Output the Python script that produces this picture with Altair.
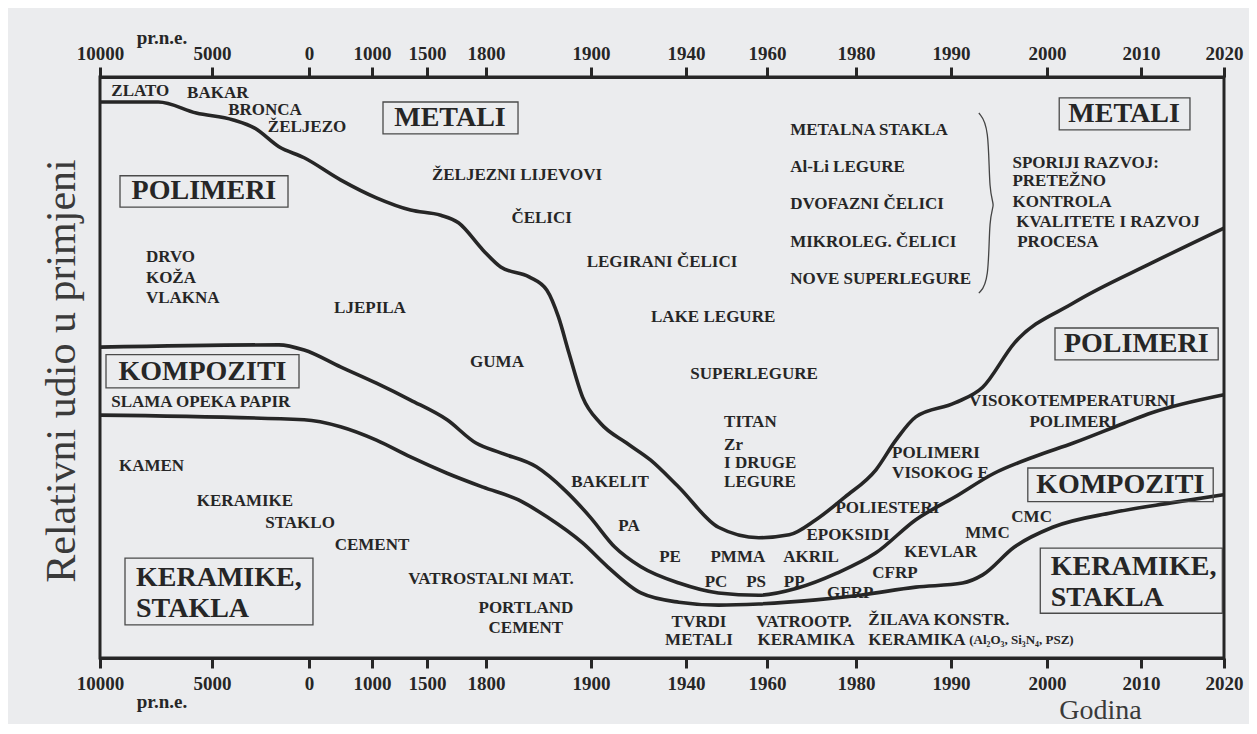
import altair as alt
import pandas as pd

FONT = "Liberation Serif"
INK = "#262626"
BG = "#ebecee"

# ---- non-uniform time axis ----
tick_years = [-10000, -5000, 0, 1000, 1500, 1800, 1900, 1940, 1960, 1980, 1990, 2000, 2010, 2020]
tick_px = [0, 112, 209, 272, 327, 386, 491, 586, 667, 756, 851, 947, 1041, 1124]

# ---- boundary curves (year, relative share 0..100) ----
metal_years = [-10000, -7400, -5700, -3900, -2800, -1550, -250, 500, 1040, 1350, 1570, 1660, 1785,
               1814, 1841, 1858, 1869, 1879, 1892, 1904, 1915, 1925, 1937, 1948, 1958, 1965, 1971,
               1977.5, 1982.1, 1984.2, 1986.3, 1990.4, 1993.3, 1996.6, 2002.8, 2011.3, 2020]
metal_share = [95.7, 95.7, 93.8, 92.6, 91.2, 88.0, 86.1, 82.3, 79.2, 77.1, 76.2, 74.9, 70.2,
               67.3, 65.6, 63.3, 58.7, 52.5, 44.9, 40.4, 37.0, 34.1, 29.4, 22.5, 20.7, 21.2, 23.8,
               27.7, 32.4, 37.5, 41.5, 43.9, 46.6, 54.2, 61.1, 68.0, 74.0]

comp_years = [-10000, -1550, -250, 500, 1040, 1350, 1602, 1749, 1814, 1848, 1875, 1899, 1910, 1921,
              1937, 1948, 1958, 1966.7, 1975.7, 1982.1, 1986.3, 1990.4, 1994.5, 1998.6, 2002.8,
              2008.2, 2011.3, 2020]
comp_share = [53.5, 53.9, 53.0, 50.1, 47.3, 44.4, 41.0, 37.0, 35.3, 32.9, 28.9, 24.3, 19.1, 15.7,
              12.9, 11.2, 10.8, 12.0, 14.6, 18.1, 23.8, 27.7, 31.8, 34.6, 37.0, 40.4, 42.2, 45.3]

ceram_years = [-10000, -250, 500, 1040, 1350, 1602, 1785, 1831, 1858, 1892, 1907, 1921, 1937, 1948,
               1958, 1971, 1980.4, 1986.3, 1991.2, 1993.3, 1996.6, 2000.6, 2006.9, 2013.6, 2020]
ceram_share = [41.8, 41.0, 39.8, 37.5, 34.6, 31.8, 29.4, 27.2, 24.3, 19.8, 15.7, 11.2, 9.6, 9.1,
               9.3, 10.0, 10.8, 12.2, 12.9, 14.3, 19.1, 22.5, 25.0, 26.7, 28.1]

# ---- labelled boxes ----
box_text = ["METALI", "POLIMERI", "METALI", "POLIMERI", "KOMPOZITI", "KOMPOZITI"]
box_cx = [1616.8, -5360, 2008.2, 2009.5, -5424, 2007.8]
box_cy = [92.9, 80.3, 93.6, 54.0, 49.3, 29.8]
box2_text = ["KERAMIKE,\nSTAKLA", "KERAMIKE,\nSTAKLA"]
box2_x = [-8393, 2000.4]
box2_y = [13.8, 15.7]
rect_x1 = [1100, -9107, 2001.3, 2000.85, -9732, 1998.0, -8884, 1999.3]
rect_x2 = [1830.5, -1082, 2015.9, 2019.3, -515, 2018.7, 63, 2019.8]
rect_y1 = [95.7, 83.0, 96.4, 56.8, 52.2, 32.7, 17.2, 18.9]
rect_y2 = [90.2, 77.6, 90.9, 51.3, 46.5, 26.9, 5.7, 7.7]

# ---- small labels, centred ----
c_text = ["ZLATO", "BAKAR", "BRONCA", "ŽELJEZO", "ŽELJEZNI LIJEVOVI", "ČELICI", "LJEPILA", "GUMA",
          "LEGIRANI ČELICI", "LAKE LEGURE", "SUPERLEGURE", "VISOKOTEMPERATURNI", "POLIMERI",
          "POLIESTERI", "EPOKSIDI", "PE", "PMMA", "AKRIL", "PC", "PS", "PP", "GFRP", "CFRP",
          "KEVLAR", "MMC", "CMC", "TVRDI", "METALI", "VATROOTP.", "KERAMIKA", "KAMEN", "KERAMIKE",
          "STAKLO", "CEMENT", "VATROSTALNI MAT.", "PORTLAND", "CEMENT", "BAKELIT", "PA"]
c_year = [-8200, -4700, -2270, -100, 1829.5, 1853, 968, 1810.5,
          1929.9, 1946.7, 1956.8, 2002.7, 2002.8,
          1983.3, 1978.2, 1933.3, 1952.8, 1969.9, 1947.4, 1957.3, 1966.1, 1978.7, 1984.1,
          1988.9, 1993.8, 1998.4, 1943.2, 1943.2, 1968.3, 1968.8, -7700, -3300,
          -460, 1000, 1804.8, 1838, 1838, 1908, 1916]
c_share = [97.6, 97.2, 94.3, 91.4, 83.1, 75.7, 60.2, 50.9,
           68.2, 58.7, 48.9, 44.2, 40.6,
           25.8, 21.2, 17.4, 17.4, 17.4, 13.1, 13.1, 13.1, 11.2, 14.6,
           18.2, 21.5, 24.3, 6.2, 3.1, 6.2, 3.1, 33.0, 27.0,
           23.2, 19.4, 13.6, 8.6, 5.2, 30.3, 22.7]

# ---- small labels, left aligned ----
l_text = ["DRVO", "KOŽA", "VLAKNA", "METALNA STAKLA", "Al-Li LEGURE", "DVOFAZNI ČELICI",
          "MIKROLEG. ČELICI", "NOVE SUPERLEGURE", "SPORIJI RAZVOJ:", "PRETEŽNO", "KONTROLA",
          "KVALITETE I RAZVOJ", "PROCESA", "TITAN", "Zr", "I DRUGE", "LEGURE", "POLIMERI",
          "VISOKOG E", "ŽILAVA KONSTR.", "KERAMIKA", "SLAMA  OPEKA  PAPIR"]
l_year = [-7950, -7950, -7950, 1965.2, 1965.2, 1965.2,
          1965.2, 1965.2, 1996.4, 1996.4, 1996.4,
          1996.8, 1996.9, 1949.4, 1949.4, 1949.4, 1949.4, 1983.8,
          1983.8, 1981.3, 1981.3, -9500]
l_share = [69.0, 65.4, 62.0, 90.9, 84.5, 78.1,
           71.6, 65.2, 85.2, 82.1, 78.5,
           75.0, 71.6, 40.6, 36.7, 33.6, 30.3, 35.3,
           31.8, 6.5, 3.1, 44.1]

sub_text = ["(Al₂O₃, Si₃N₄, PSZ)"]
sub_year = [1991.9]
sub_share = [3.1]

era_text = ["pr.n.e.", "pr.n.e."]
era_year = [-7230, -7230]
era_share = [106.7, -7.6]

ytitle_text = ["Relativni udio u primjeni"]
ytitle_year = [-11700]
ytitle_share = [49.4]

brace_year = [1992.9, 1993.96, 1993.96, 1994.6, 1993.96, 1993.96, 1992.9]
brace_share = [93.8, 91.7, 79.7, 78.0, 76.2, 64.7, 62.8]

# ---- tables ----
curves = pd.concat([
    pd.DataFrame({"series": "metali", "year": metal_years, "share": metal_share}),
    pd.DataFrame({"series": "kompoziti", "year": comp_years, "share": comp_share}),
    pd.DataFrame({"series": "keramike", "year": ceram_years, "share": ceram_share}),
])
boxes = pd.DataFrame({"x1": rect_x1, "x2": rect_x2, "y1": rect_y1, "y2": rect_y2})
box_df = pd.DataFrame({"t": box_text, "year": box_cx, "share": box_cy})
box2_df = pd.DataFrame({"t": box2_text, "year": box2_x, "share": box2_y})
c_df = pd.DataFrame({"t": c_text, "year": c_year, "share": c_share})
l_df = pd.DataFrame({"t": l_text, "year": l_year, "share": l_share})
sub_df = pd.DataFrame({"t": sub_text, "year": sub_year, "share": sub_share})
era_df = pd.DataFrame({"t": era_text, "year": era_year, "share": era_share})
yt_df = pd.DataFrame({"t": ytitle_text, "year": ytitle_year, "share": ytitle_share})
brace_df = pd.DataFrame({"year": brace_year, "share": brace_share, "i": list(range(len(brace_year)))})

xs = alt.Scale(domain=tick_years, range=tick_px, zero=False, nice=False)
ys = alt.Scale(domain=[0, 100], zero=False, nice=False)

axis_common = dict(values=tick_years, labelExpr="format(abs(datum.value), 'd')",
                   labelOverlap=False, labelFlush=False, labelBound=False,
                   labelFont=FONT, labelFontSize=19, labelFontWeight="bold", labelColor=INK,
                   tickSize=10, tickWidth=3, tickColor=INK, domainWidth=3, domainColor=INK,
                   grid=False)
bottom_axis = alt.Axis(orient="bottom", labelPadding=6, title="Godina", titleFont=FONT,
                       titleFontSize=28, titleFontWeight="normal", titleColor="#3a3a3a",
                       titleX=1000, titleY=60, titleAlign="center", titleBaseline="alphabetic",
                       **axis_common)
top_axis = alt.Axis(orient="top", labelPadding=4, title="", **axis_common)


def X(ax=None):
    return alt.X("year:Q", scale=xs, axis=ax)


def Y(ax=None):
    return alt.Y("share:Q", scale=ys, axis=ax)


lines = alt.Chart(curves).mark_line(color=INK, strokeWidth=3.6, interpolate="monotone").encode(
    x=X(bottom_axis), y=Y(None), detail="series:N")

rects = alt.Chart(boxes).mark_rect(fill=BG, fillOpacity=0, stroke="#4a4a4a", strokeWidth=1.3).encode(
    x=alt.X("x1:Q", scale=xs, axis=top_axis), x2="x2:Q",
    y=alt.Y("y1:Q", scale=ys, axis=None), y2="y2:Q")

box_lbl = alt.Chart(box_df).mark_text(font=FONT, fontSize=28, fontWeight="bold", color=INK,
                                      align="center", baseline="middle").encode(
    x=X(None), y=Y(None), text="t:N")
box2_lbl = alt.Chart(box2_df).mark_text(font=FONT, fontSize=28, fontWeight="bold", color=INK,
                                        align="left", baseline="middle", lineBreak="\n",
                                        lineHeight=31).encode(
    x=X(None), y=Y(None), text="t:N")
c_lbl = alt.Chart(c_df).mark_text(font=FONT, fontSize=17, fontWeight="bold", color=INK,
                                  align="center", baseline="middle").encode(
    x=X(None), y=Y(None), text="t:N")
l_lbl = alt.Chart(l_df).mark_text(font=FONT, fontSize=17, fontWeight="bold", color=INK,
                                  align="left", baseline="middle").encode(
    x=X(None), y=Y(None), text="t:N")
sub_lbl = alt.Chart(sub_df).mark_text(font=FONT, fontSize=13, fontWeight="bold", color=INK,
                                      align="left", baseline="middle").encode(
    x=X(None), y=Y(None), text="t:N")
era_lbl = alt.Chart(era_df).mark_text(font=FONT, fontSize=19, fontWeight="bold", color=INK,
                                      align="center", baseline="middle").encode(
    x=X(None), y=Y(None), text="t:N")
ytitle = alt.Chart(yt_df).mark_text(font=FONT, fontSize=42, fontWeight="normal", color="#3a3a3a",
                                    align="center", baseline="middle", angle=270).encode(
    x=X(None), y=Y(None), text="t:N")
brace = alt.Chart(brace_df).mark_line(color="#444", strokeWidth=1.3, interpolate="basis").encode(
    x=X(None), y=Y(None), order="i:Q")

chart = alt.layer(lines, rects, box_lbl, box2_lbl, c_lbl, l_lbl, sub_lbl, era_lbl, ytitle, brace).resolve_axis(
    x="independent").properties(
    width=1124, height=581,
    autosize=alt.AutoSizeParams(type="none"),
    padding={"left": 92, "top": 69, "right": 25, "bottom": 66},
    background=BG,
).configure_view(stroke=INK, strokeWidth=3)

chart.save("out.html", embed_options={"renderer": "svg", "actions": False})
